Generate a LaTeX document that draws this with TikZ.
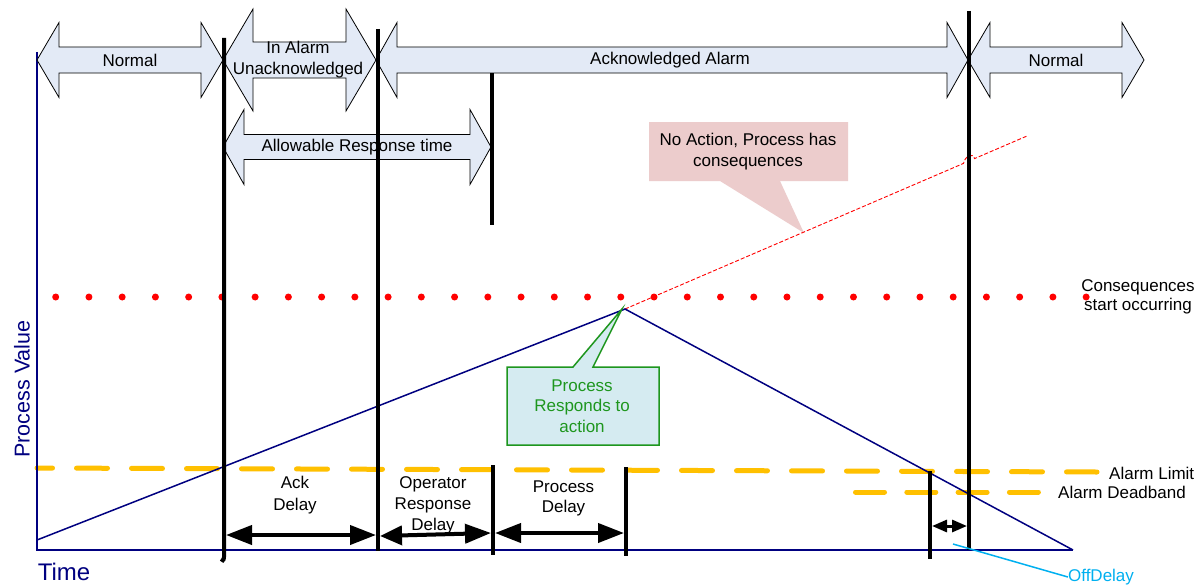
\documentclass[tikz,border=0pt]{standalone}
\usepackage{fontspec}
\setmainfont{Liberation Sans}
\usetikzlibrary{arrows.meta}
\definecolor{arrowfill}{RGB}{227,234,246}
\definecolor{pvnavy}{RGB}{0,0,128}
\definecolor{limityellow}{RGB}{255,192,0}
\definecolor{calloutpink}{RGB}{236,204,204}
\definecolor{calloutcyan}{RGB}{213,235,241}
\definecolor{calloutgreen}{RGB}{30,150,30}
\definecolor{offcyan}{RGB}{0,176,240}
% #1 x left tip, #2 x right tip, #3 y centre, #4 shaft half height, #5 head half height, #6 head length
\newcommand\DArrow[6]{%
  \draw[arrowbox] (#1,#3) -- (#1+#6,#3-#5) -- (#1+#6,#3-#4) -- (#2-#6,#3-#4) -- (#2-#6,#3-#5)
    -- (#2,#3) -- (#2-#6,#3+#5) -- (#2-#6,#3+#4) -- (#1+#6,#3+#4) -- (#1+#6,#3+#5) -- cycle;}
\begin{document}
\begin{tikzpicture}[x=1pt,y=-1pt,
  arrowbox/.style={draw=black,line width=0.8,fill=arrowfill},
  lbl/.style={font=\fontsize{17}{21}\selectfont,align=center,inner sep=0pt},
  vline/.style={line width=4,black},
  pvline/.style={line width=1.5,pvnavy},
  limitline/.style={line width=5,limityellow,line cap=round},
  delayarrow/.style={line width=4,{Triangle[length=26pt,width=19pt]}-{Triangle[length=26pt,width=19pt]}},
  dotred/.style={fill=red,draw=none}]
\useasboundingbox (0,0) rectangle (1201,586);
\fill[white] (0,0) rectangle (1201,586);

% key points
\coordinate (origin) at (37,550);
\coordinate (ytop) at (37,52);
\coordinate (xend) at (1073,550);
\coordinate (pvstart) at (37,540);
\coordinate (peak) at (625,309);

% consequence dots
\foreach \i in {0,...,31} \fill[dotred] (55.7+33.24*\i,297) circle (3.5);

% alarm limit / deadband
\draw[limitline,dash pattern=on 31 off 24,dash phase=15.5] (37,468) -- (1097,472);
\draw[limitline,dash pattern=on 29 off 22.3] (855.5,492) -- (1038.5,492);

% callouts
\fill[calloutpink] (649,122) -- (848,122) -- (848,181) -- (780,181) -- (804,233) -- (720,181) -- (649,181) -- cycle;
\node[lbl] (noaction) at (748,151.5) {No Action, Process has\\consequences};

% red dashed continuation
\draw[red,line width=0.9,dash pattern=on 4 off 2] (peak) -- (963.5,163.4)
  .. controls (965,156) and (973,152) .. (974.5,158.6) -- (1027,136);

% process value and axes
\draw[pvline] (ytop) -- (origin) -- (xend);
\draw[pvline] (pvstart) -- (peak) -- (xend);

\draw[calloutgreen,line width=1.5,fill=calloutcyan] (507,367) -- (573,367) -- (622,309) -- (593,367) -- (659,367) -- (659,445) -- (507,445) -- cycle;
\node[lbl,text=calloutgreen,font=\fontsize{17}{20.5}\selectfont] (responds) at (582,406) {Process\\Responds to\\action};

% top state arrows
\DArrow{37}{223}{60}{13}{37.5}{22}
\DArrow{223}{376}{60}{18}{51}{30}
\DArrow{376}{968}{60}{13}{37.5}{21}
\DArrow{968}{1144}{60}{13}{37.5}{22}
\DArrow{223}{491}{147}{12.5}{37.5}{21}
\node[lbl] (normal1) at (130,60) {Normal};
\node[lbl] (inalarm) at (298,59.5) {In Alarm\\Unacknowledged};
\node[lbl] (ackalarm) at (670,60) {Acknowledged Alarm};
\node[lbl] (normal2) at (1056,60) {Normal};
\node[lbl] (allow) at (357,147) {Allowable Response time};

% vertical event lines
\draw[vline] (224,38) -- (224,557) .. controls (224,561) and (222,561) .. (221,559);
\draw[vline] (378,29) -- (378,551);
\draw[vline] (492,73) -- (492,225);
\draw[vline] (493,465) -- (493,555);
\draw[vline] (626,467) -- (626,556);
\draw[vline] (969,11) -- (969,550);
\draw[vline] (930,471) -- (930,559);

% delay arrows
\coordinate (ackL) at (226,535);
\coordinate (ackR) at (376,535);
\coordinate (opL) at (380,536);
\coordinate (opR) at (491,533);
\coordinate (prL) at (495,533);
\coordinate (prR) at (624,533);
\coordinate (offL) at (932,526);
\coordinate (offR) at (967,526);
\draw[delayarrow] (ackL) -- (ackR);
\draw[delayarrow,{Triangle[length=22pt,width=19pt]}-{Triangle[length=26pt,width=19pt]}] (opL) -- (opR);
\draw[delayarrow] (prL) -- (prR);
\draw[line width=3,{Triangle[length=15pt,width=12pt]}-{Triangle[length=15pt,width=12pt]}] (offL) -- (offR);

\node[lbl,font=\fontsize{17}{22}\selectfont] (ackdelay) at (295,495) {Ack\\Delay};
\node[lbl] (opdelay) at (433,505) {Operator\\Response\\Delay};
\node[lbl,font=\fontsize{17}{20}\selectfont] (prdelay) at (563.5,498) {Process\\Delay};

% right-hand labels
\node[lbl,font=\fontsize{17}{19}\selectfont] (conseq) at (1138,296.5) {Consequences\\start occurring};
\node[lbl,anchor=west] (alimit) at (1109,473) {Alarm Limit};
\node[lbl,anchor=west] (adead) at (1058,492) {Alarm Deadband};

% off delay
\node[lbl,text=offcyan] (offdelay) at (1101,577) {OffDelay};
\coordinate (offpt) at (953,544);
\draw[offcyan,line width=1.5] (offpt) -- (offdelay.west);

% axis titles
\node[lbl,text=pvnavy,font=\fontsize{24}{28}\selectfont] (timelbl) at (64,572) {Time};
\node[lbl,text=pvnavy,font=\fontsize{21.5}{26}\selectfont,rotate=90] (pvlbl) at (22,389) {Process Value};
\end{tikzpicture}
\end{document}
